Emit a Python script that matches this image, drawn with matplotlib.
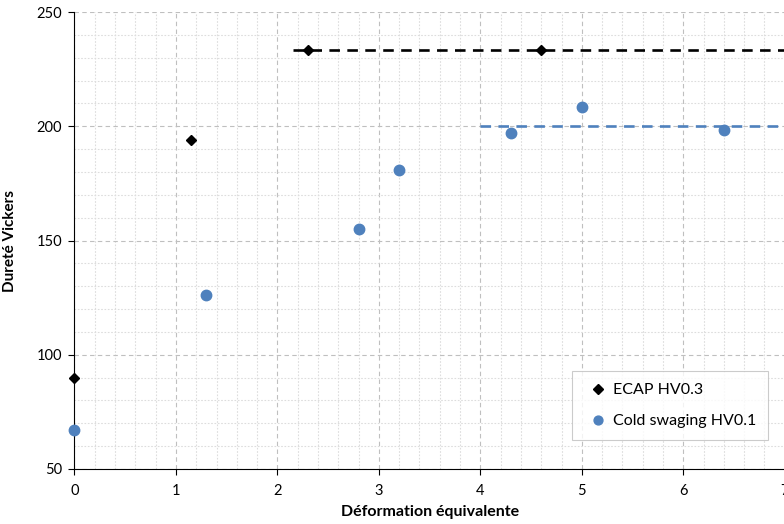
import matplotlib.pyplot as plt
from matplotlib.ticker import MultipleLocator

plt.rcParams['font.family'] = ['Lato', 'DejaVu Sans']

# ECAP HV0.3
ecap_x = [0, 1.15, 2.3, 4.6]
ecap_y = [90, 194, 233.5, 233.5]

# Cold swaging HV0.1
cs_x = [0, 1.3, 2.8, 3.2, 4.3, 5.0, 6.4]
cs_y = [67, 126, 155, 181, 197, 208.5, 198.5]

# plateau levels
ecap_plateau = 233.5
ecap_plateau_start = 2.15
cs_plateau = 200.3
cs_plateau_start = 4.0

blue = '#4F81BD'

fig = plt.figure(figsize=(7.84, 5.24), dpi=100)
ax = fig.add_axes([0.095, 0.105, 0.906, 0.872])

ax.set_xlim(0, 7)
ax.set_ylim(50, 250)
ax.xaxis.set_major_locator(MultipleLocator(1))
ax.xaxis.set_minor_locator(MultipleLocator(0.2))
ax.yaxis.set_major_locator(MultipleLocator(50))
ax.yaxis.set_minor_locator(MultipleLocator(10))

ax.grid(which='major', color='#BFBFBF', linestyle=(0, (4, 3)), linewidth=0.8)
ax.grid(which='minor', color='#DDDDDD', linestyle=(0, (1.5, 1.5)), linewidth=0.8)
ax.set_axisbelow(True)

ax.plot([ecap_plateau_start, 7], [ecap_plateau, ecap_plateau], color='black',
        linewidth=1.9, dashes=(4, 2.8), clip_on=False, zorder=2)
ax.plot([cs_plateau_start, 7], [cs_plateau, cs_plateau], color=blue,
        linewidth=1.9, dashes=(4, 2.8), clip_on=False, zorder=2)

ax.plot(ecap_x, ecap_y, linestyle='none', marker='D', markersize=5.5,
        color='black', label='ECAP HV0.3', clip_on=False, zorder=3)
ax.plot(cs_x, cs_y, linestyle='none', marker='o', markersize=7.5,
        color=blue, label='Cold swaging HV0.1', clip_on=False, zorder=3)

for s in ['top', 'right']:
    ax.spines[s].set_visible(False)
ax.spines['left'].set_color('black')
ax.spines['bottom'].set_color('black')
ax.tick_params(which='major', direction='out', length=4, labelsize=10.5, colors='black')
ax.tick_params(axis='x', which='major', pad=7)
ax.tick_params(axis='y', which='major', pad=5)
ax.tick_params(which='minor', length=0)

ax.set_xlabel('Déformation équivalente', fontsize=11.5, fontweight='bold', labelpad=5)
ax.set_ylabel('Dureté Vickers', fontsize=11, fontweight='bold', labelpad=14)

leg = ax.legend(loc='lower right', bbox_to_anchor=(0.977, 0.063), fontsize=11.5,
                frameon=True, fancybox=False, edgecolor='#BFBFBF',
                handletextpad=0.1, labelspacing=1.05, borderpad=0.75,
                handlelength=1.7, borderaxespad=0, markerscale=0.85)
leg.get_frame().set_linewidth(0.8)

fig.savefig('out.png', dpi=100)
